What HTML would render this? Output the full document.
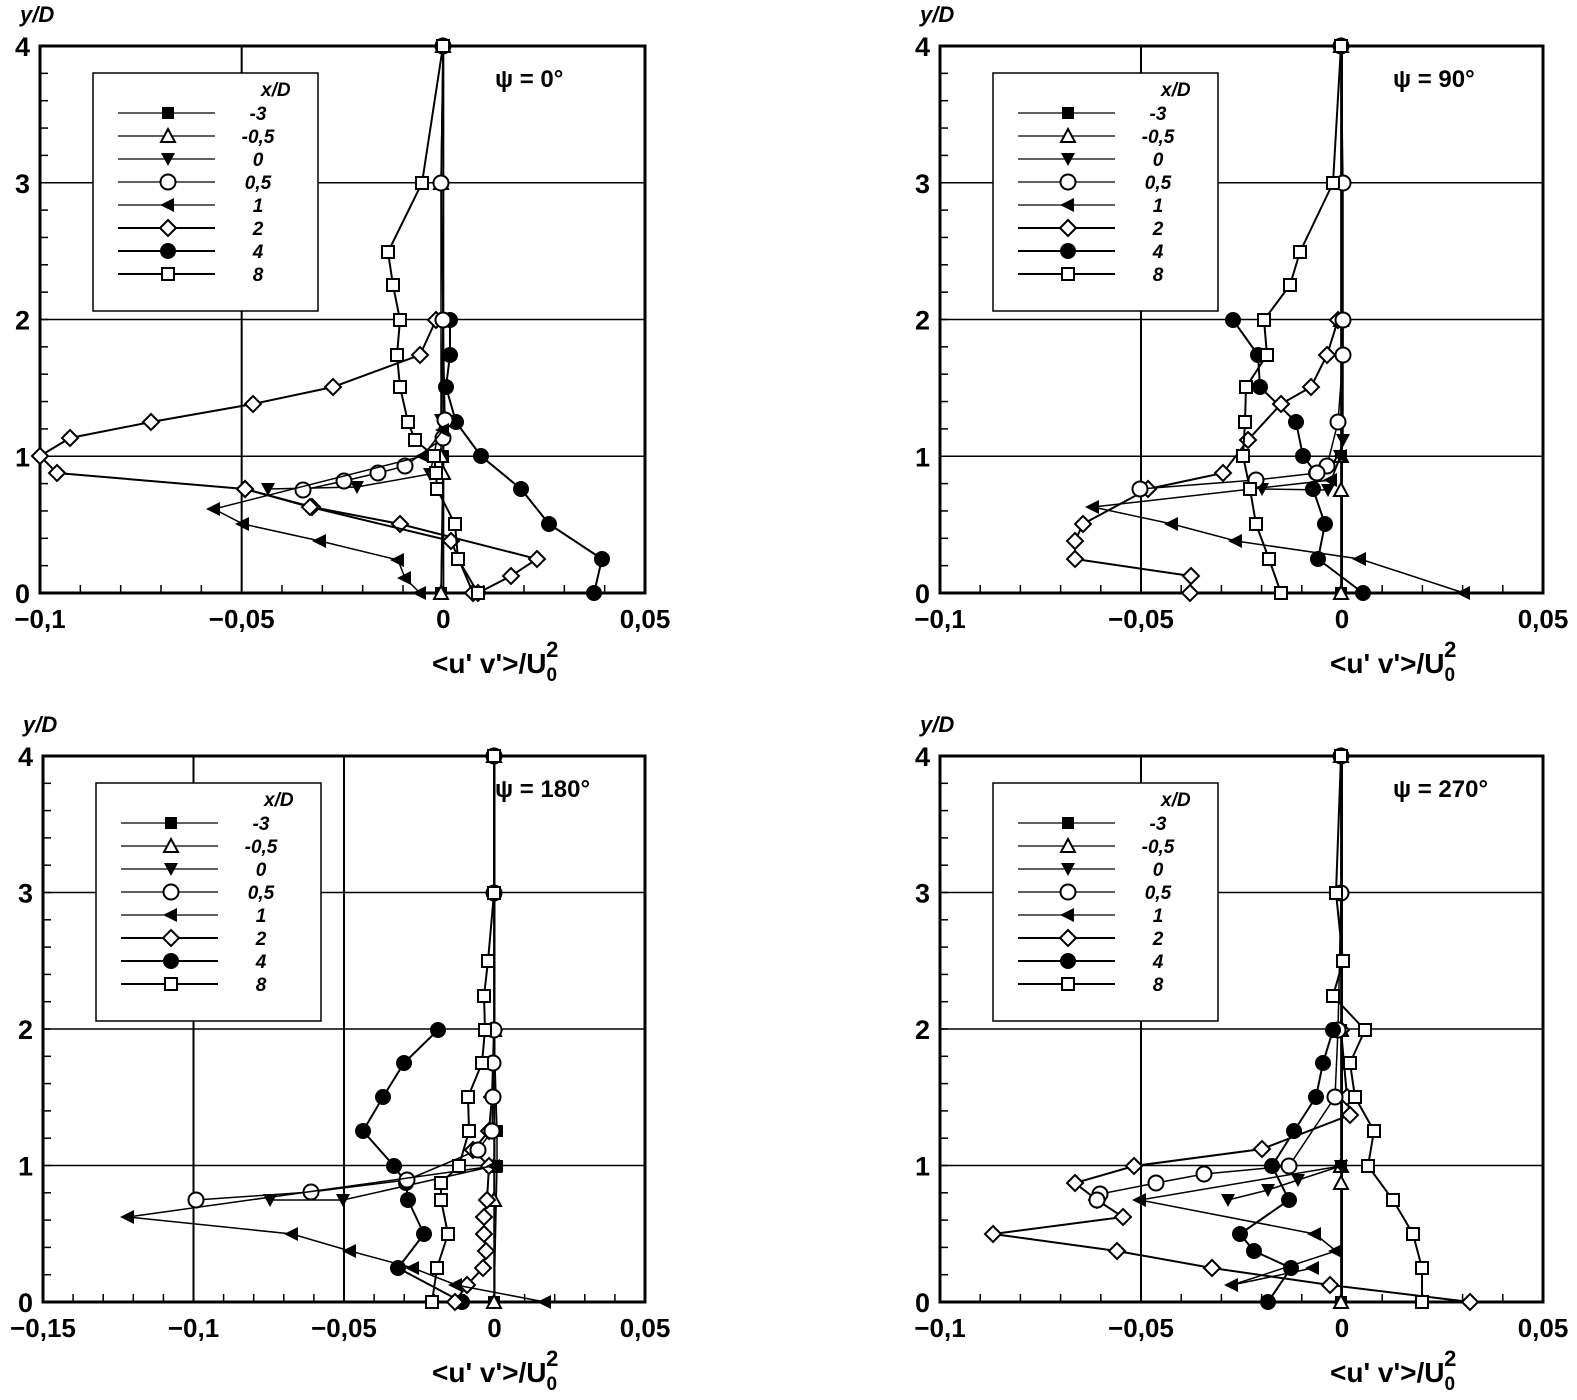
<!DOCTYPE html>
<html><head><meta charset="utf-8"><style>
body{margin:0;background:#fff}
svg{display:block}
text{font-family:"Liberation Sans",sans-serif;fill:#000}
</style></head><body>
<svg id="s" width="1577" height="1400" xmlns="http://www.w3.org/2000/svg"></svg>
<script>
const S=document.getElementById('s');let h='';
function mk(k,x,y){
 const st='stroke="#000" stroke-width="2"';
 switch(k){
 case 0:return `<rect x="${x-6}" y="${y-6}" width="12" height="12" fill="#000"/>`;
 case 1:return `<polygon points="${x},${y-7} ${x-7},${y+6} ${x+7},${y+6}" fill="#fff" ${st}/>`;
 case 2:return `<polygon points="${x},${y+7} ${x-7},${y-6} ${x+7},${y-6}" fill="#000"/>`;
 case 3:return `<circle cx="${x}" cy="${y}" r="7.5" fill="#fff" ${st}/>`;
 case 4:return `<polygon points="${x-8},${y} ${x+6},${y-7} ${x+6},${y+7}" fill="#000"/>`;
 case 5:return `<polygon points="${x},${y-8} ${x+8},${y} ${x},${y+8} ${x-8},${y}" fill="#fff" ${st}/>`;
 case 6:return `<circle cx="${x}" cy="${y}" r="8" fill="#000"/>`;
 case 7:return `<rect x="${x-6}" y="${y-6}" width="12" height="12" fill="#fff" ${st}/>`;
 }}
function panel(L,R,T,B,xt,psi,legY){
 const n=xt.length;
 for(let i=1;i<n-1;i++){const x=L+(R-L)*i/(n-1);h+=`<line x1="${x}" y1="${T}" x2="${x}" y2="${B}" stroke="#000" stroke-width="2"/>`;}
 for(let j=1;j<4;j++){const y=B-(B-T)*j/4;h+=`<line x1="${L}" y1="${y}" x2="${R}" y2="${y}" stroke="#000" stroke-width="1.5"/>`;}
 const nx=(n-1)*5;for(let i=1;i<nx;i++){const x=L+(R-L)*i/nx;h+=`<line x1="${x}" y1="${B}" x2="${x}" y2="${B-8}" stroke="#000" stroke-width="1.5"/>`;}
 for(let j=1;j<20;j++){const y=B-(B-T)*j/20;h+=`<line x1="${L}" y1="${y}" x2="${L+8}" y2="${y}" stroke="#000" stroke-width="1.5"/>`;}
 h+=`<rect x="${L}" y="${T}" width="${R-L}" height="${B-T}" fill="none" stroke="#000" stroke-width="3"/>`;
 for(let i=0;i<n;i++){const x=L+(R-L)*i/(n-1);h+=`<text x="${x}" y="${B+35}" font-size="26" text-anchor="middle" font-weight="bold">${xt[i]}</text>`;}
 for(let j=0;j<=4;j++){const y=B-(B-T)*j/4;h+=`<text x="${L-10}" y="${y+10}" font-size="27" text-anchor="end" font-weight="bold">${j}</text>`;}
 h+=`<text x="${L-20}" y="${T-24}" font-size="22" font-style="italic" font-weight="bold">y/D</text>`;
 h+=`<text x="${R-213}" y="${B+80}" font-size="28" font-weight="bold">&lt;u' v'&gt;/U<tspan font-size="19" dy="8">0</tspan><tspan font-size="22" dx="-11" dy="-24">2</tspan></text>`;
 h+=`<text x="${R-150}" y="${T+41}" font-size="24" font-weight="bold">ψ = ${psi}°</text>`;
 const lx=L+53;h+=`<rect x="${lx}" y="${legY}" width="225" height="238" fill="#fff" stroke="#000" stroke-width="1.5"/>`;
 h+=`<text x="${lx+168}" y="${legY+23}" font-size="19" font-style="italic" font-weight="bold" font-family="Liberation Serif">x/D</text>`;
 const names=['-3','-0,5','0','0,5','1','2','4','8'];
 for(let k=0;k<8;k++){const y=legY+40+k*23;h+=`<line x1="${lx+25}" y1="${y}" x2="${lx+122}" y2="${y}" stroke="#000" stroke-width="${k>=5?2:1.2}"/>`;h+=mk(k,lx+75,y);h+=`<text x="${lx+165}" y="${y+7}" font-size="19" font-style="italic" font-weight="bold" font-family="Liberation Serif" text-anchor="middle">${names[k]}</text>`;}
}
function ser(k,pts){h+=`<polyline points="${pts.map(p=>p.join(',')).join(' ')}" fill="none" stroke="#000" stroke-width="${k>=5?2:1.5}"/>`;pts.forEach(p=>h+=mk(k,p[0],p[1]));}
panel(40,645,46,593,['−0,1','−0,05','0','0,05'],0,73);
panel(940,1543,46,593,['−0,1','−0,05','0','0,05'],90,73);
panel(43,645,756,1302,['−0,15','−0,1','−0,05','0','0,05'],180,783);
panel(940,1543,756,1302,['−0,1','−0,05','0','0,05'],270,783);
// Panel 1
ser(0,[[443,46],[443,320],[443,456],[441,593]]);
ser(1,[[443,46],[441,183],[441,320],[441,456],[443,473],[441,593]]);
ser(2,[[443,320],[441,420],[430,474],[357,487],[268,489]]);
ser(5,[[436,320],[420,355],[333,387],[253,404],[151,422],[70,438],[40,456],[57,473],[245,489],[312,507],[400,524],[537,559],[511,576],[478,593]]);
ser(5,[[245,489],[310,507],[451,541],[473,593]]);
ser(6,[[450,320],[450,355],[446,387],[456,422],[481,456],[521,489],[549,524],[602,559],[594,593]]);
ser(3,[[443,46],[441,183],[443,320],[445,420],[443,438],[405,466],[378,473],[344,481],[303,490]]);
ser(4,[[443,430],[423,456],[214,509],[243,524],[320,541],[398,560],[405,578],[420,593]]);
ser(7,[[443,46],[422,183],[388,252],[393,285],[400,320],[397,355],[400,387],[408,422],[415,440],[434,456],[436,473],[437,489],[455,524],[458,559],[478,593]]);
// Panel 2
ser(0,[[1341,46],[1341,320],[1341,456],[1341,593]]);
ser(1,[[1341,46],[1341,320],[1341,456],[1341,490],[1341,593]]);
ser(2,[[1343,320],[1343,440],[1340,456],[1328,490],[1262,489]]);
ser(6,[[1233,320],[1258,355],[1260,387],[1296,422],[1303,456],[1316,473],[1313,489],[1325,524],[1318,559],[1363,593]]);
ser(5,[[1338,320],[1327,355],[1311,387],[1281,404],[1248,440],[1223,473],[1148,489],[1083,524],[1075,541],[1075,559],[1191,576],[1190,593]]);
ser(4,[[1341,456],[1331,480],[1093,507],[1172,524],[1236,541],[1360,559],[1464,593]]);
ser(3,[[1341,46],[1343,183],[1343,320],[1343,355],[1338,422],[1327,466],[1317,473],[1256,480],[1140,489]]);
ser(7,[[1341,46],[1333,183],[1300,252],[1290,285],[1264,320],[1267,355],[1246,387],[1245,422],[1243,456],[1250,489],[1256,524],[1269,559],[1281,593]]);
// Panel 3
ser(0,[[494,756],[494,1030],[497,1131],[497,1166],[494,1302]]);
ser(1,[[494,756],[494,1030],[494,1166],[494,1200],[494,1302]]);
ser(2,[[494,1166],[343,1200],[270,1200]]);
ser(6,[[438,1030],[404,1063],[383,1097],[363,1131],[394,1166],[406,1183],[408,1200],[424,1234],[398,1268],[462,1302]]);
ser(5,[[494,1030],[492,1097],[489,1131],[473,1150],[489,1166],[487,1200],[484,1217],[484,1234],[486,1251],[483,1268],[467,1285],[455,1302]]);
ser(3,[[494,756],[494,893],[494,1030],[493,1063],[493,1097],[492,1131],[478,1150],[407,1180],[311,1192],[196,1200]]);
ser(4,[[494,1166],[128,1217],[292,1234],[350,1251],[413,1268],[456,1285],[545,1302]]);
ser(7,[[494,756],[494,893],[488,961],[484,996],[485,1030],[482,1063],[468,1097],[469,1131],[459,1166],[441,1183],[441,1200],[448,1234],[437,1268],[432,1302]]);
// Panel 4
ser(0,[[1341,756],[1341,1030],[1341,1166],[1341,1302]]);
ser(1,[[1341,756],[1341,1030],[1341,1166],[1341,1183],[1341,1302]]);
ser(2,[[1341,1166],[1298,1180],[1268,1190],[1228,1200]]);
ser(5,[[1341,1030],[1347,1097],[1350,1115],[1262,1149],[1134,1166],[1075,1183],[1097,1200],[1123,1217],[993,1234],[1117,1251],[1212,1268],[1330,1285],[1470,1302]]);
ser(4,[[1341,1166],[1140,1200],[1315,1234],[1336,1251],[1232,1285],[1313,1268]]);
ser(3,[[1341,756],[1341,893],[1338,1030],[1335,1097],[1289,1166],[1204,1174],[1156,1183],[1100,1194],[1097,1200]]);
ser(6,[[1333,1030],[1323,1063],[1316,1097],[1294,1131],[1272,1166],[1289,1200],[1240,1234],[1254,1251],[1291,1268],[1268,1302]]);
ser(7,[[1341,756],[1336,893],[1343,961],[1333,996],[1365,1030],[1350,1063],[1355,1097],[1374,1131],[1368,1166],[1393,1200],[1413,1234],[1422,1268],[1422,1302]]);
S.innerHTML=h;
</script>
</body></html>
